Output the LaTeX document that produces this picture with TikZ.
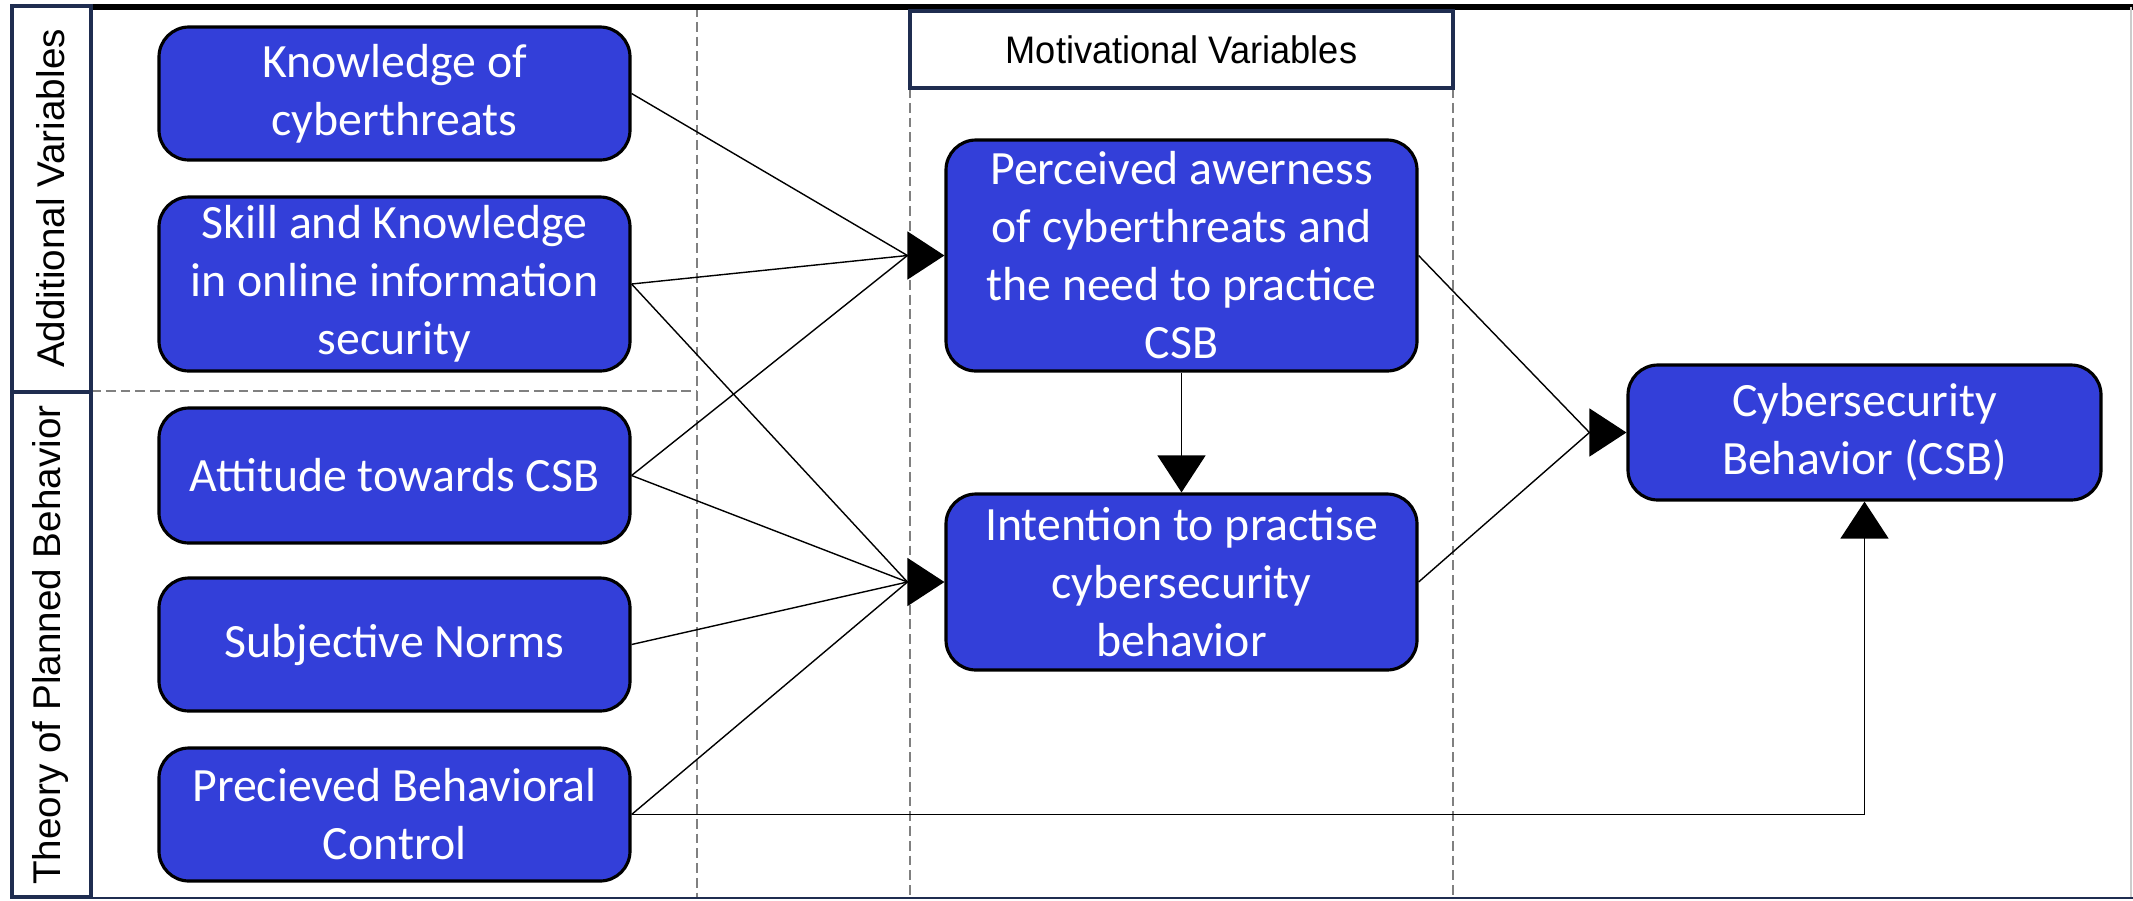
\documentclass[tikz,border=0pt]{standalone}
\usepackage{fontspec}
\setmainfont{Carlito}
\newfontfamily\arialfont{Liberation Sans}
\usetikzlibrary{arrows.meta}
\definecolor{varblue}{RGB}{51,63,217}
\definecolor{navy}{RGB}{31,45,80}
\definecolor{dashgray}{RGB}{128,128,128}

\begin{document}
\begin{tikzpicture}
	\tikzstyle{every node}+=[inner sep=0pt]
	\tikzstyle{var}=[draw=black, line width=0.9pt, fill=varblue, rounded corners=0.3cm, text=white, align=center, minimum width=4.71cm, font=\fontsize{13.6}{16.5}\selectfont]
	\tikzstyle{guide}=[dashgray, line width=0.6pt, dash pattern=on 2.8pt off 1.4pt]
	\tikzstyle{link}=[black, line width=0.4pt]
	\tikzstyle{bigtip}=[-{Triangle[length=3.7mm,width=4.8mm]}]
	\tikzstyle{sidelabel}=[rotate=90, font=\arialfont\fontsize{11}{13}\selectfont]
	\useasboundingbox (0,0) rectangle (21.33,-9);
	% frame and columns
	\draw [guide] (6.97,-0.07) -- (6.97,-8.98);
	\draw [guide] (9.10,-0.88) -- (9.10,-8.98);
	\draw [guide] (14.53,-0.88) -- (14.53,-8.98);
	\draw [guide] (0.91,-3.91) -- (6.97,-3.91);
	\draw [black, line width=1.5pt] (0.91,-0.07) -- (21.33,-0.07);
	\draw [gray!40, line width=0.6pt] (21.31,-0.07) -- (21.31,-8.98);
	\draw [navy, line width=0.8pt] (0.91,-8.98) -- (21.33,-8.98);
	\draw [navy, line width=1.4pt] (0.12,-0.06) rectangle (0.91,-3.92);
	\draw [navy, line width=1.4pt] (0.12,-3.92) rectangle (0.91,-8.97);
	\node [sidelabel] (addl) at (0.51,-1.985) {Additional Variables};
	\node [sidelabel] (tpb) at (0.51,-6.45) {Theory of Planned Behavior};
	\node [draw=navy, line width=1.1pt, fill=white, minimum width=5.43cm, minimum height=0.77cm, font=\arialfont\fontsize{10.3}{12}\selectfont] (motiv) at (11.815,-0.495) {\scalebox{1}[1.06]{Motivational Variables}};
	% variables
	\node [var, minimum height=1.33cm] (know) at (3.945,-0.935) {Knowledge of\\cyberthreats};
	\node [var, minimum height=1.74cm] (skill) at (3.945,-2.84) {Skill and Knowledge\\in online information\\security};
	\node [var, minimum height=1.35cm] (att) at (3.945,-4.755) {Attitude towards CSB};
	\node [var, minimum height=1.33cm] (subj) at (3.945,-6.445) {Subjective Norms};
	\node [var, minimum height=1.33cm] (pbc) at (3.945,-8.145) {Precieved Behavioral\\Control};
	\node [var, minimum height=2.31cm] (perc) at (11.815,-2.555) {Perceived awerness\\of cyberthreats and\\the need to practice\\CSB};
	\node [var, minimum height=1.76cm] (intent) at (11.815,-5.82) {Intention to practise\\cybersecurity\\behavior};
	\node [var, minimum height=1.35cm, minimum width=4.73cm] (csb) at (18.645,-4.325) {Cybersecurity\\Behavior (CSB)};
	\coordinate (percin) at ([xshift=-3.7mm]perc.west);
	\coordinate (intentin) at ([xshift=-3.7mm]intent.west);
	\coordinate (csbin) at ([xshift=-3.7mm]csb.west);
	\coordinate (csbbot) at ([yshift=-3.7mm]csb.south);
	% connectors
	\draw [link] (know.east) -- (percin);
	\draw [link] (skill.east) -- (percin);
	\draw [link] (att.east) -- (percin);
	\draw [link] (skill.east) -- (intentin);
	\draw [link] (att.east) -- (intentin);
	\draw [link] (subj.east) -- (intentin);
	\draw [link] (pbc.east) -- (intentin);
	\draw [link] (perc.east) -- (csbin);
	\draw [link] (intent.east) -- (csbin);
	\draw [link] (pbc.east) -| (csbbot);
	\draw [link, bigtip] (percin) -- (perc.west);
	\draw [link, bigtip] (intentin) -- (intent.west);
	\draw [link, bigtip] (csbin) -- (csb.west);
	\draw [link, bigtip] (csbbot) -- (csb.south);
	\draw [link, bigtip] (perc.south) -- (intent.north);
\end{tikzpicture}
\end{document}
